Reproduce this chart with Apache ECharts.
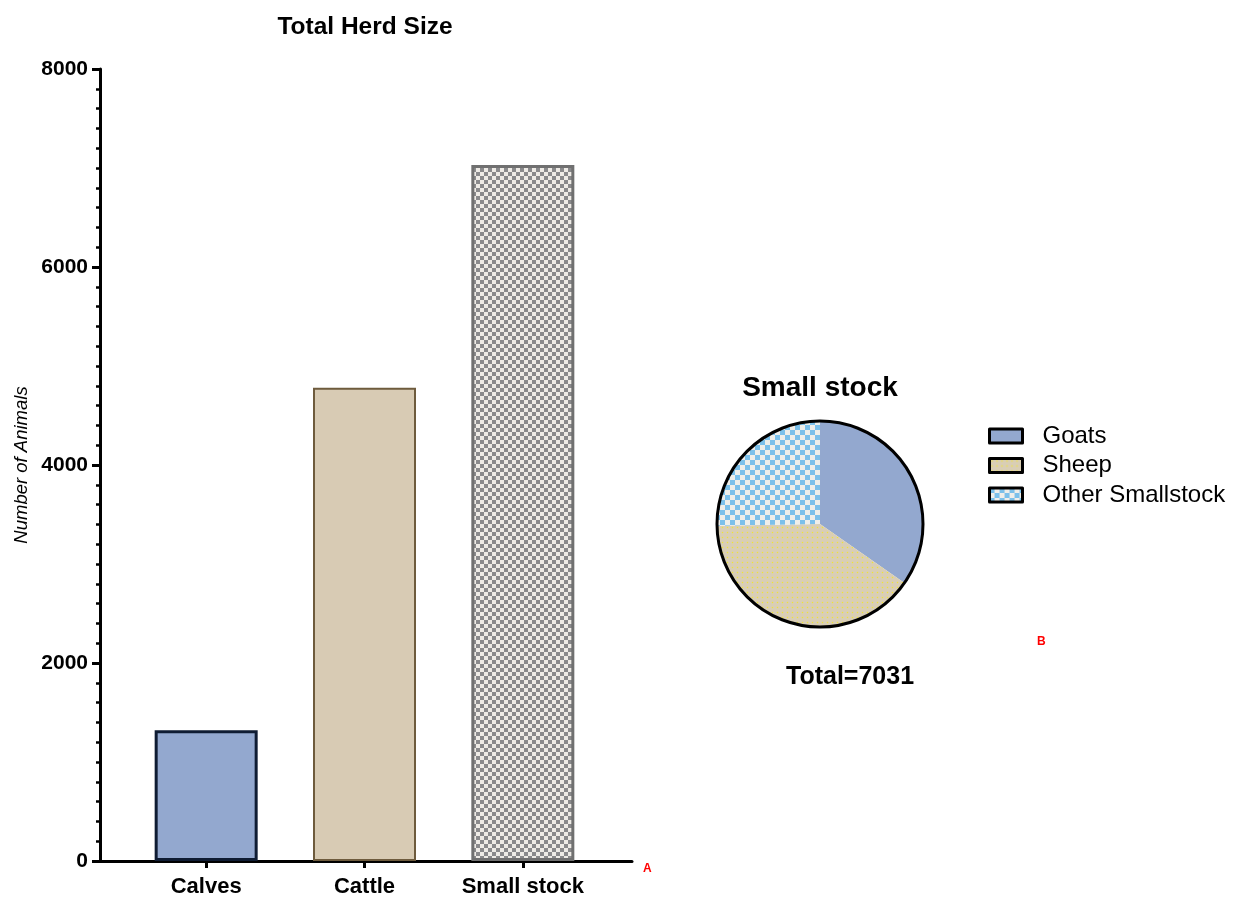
<!DOCTYPE html>
<html>
<head>
<meta charset="utf-8">
<script src="https://cdn.jsdelivr.net/npm/echarts@6/dist/echarts.min.js"></script>
<style>
  html, body { margin: 0; padding: 0; background: #fff; }
  #chart { width: 1245px; height: 899px; }
</style>
</head>
<body>
<div id="chart"></div>
<script>
// Herd counts
const herdCategories = ['Calves', 'Cattle', 'Small stock'];
const herdValues = [1320, 4780, 7031];
const herdTicks = [0, 2000, 4000, 6000, 8000];

// Breakdown of small stock
const smallStockNames = ['Goats', 'Sheep', 'Other Smallstock'];
const smallStockValues = [2440, 2815, 1776];

const FONT = '"Liberation Sans", Arial, sans-serif';

// Build a repeating canvas pattern
function checker(size, a, b) {
  const c = document.createElement('canvas');
  c.width = c.height = size * 2;
  const g = c.getContext('2d');
  g.fillStyle = a; g.fillRect(0, 0, size * 2, size * 2);
  g.fillStyle = b;
  g.fillRect(0, 0, size, size);
  g.fillRect(size, size, size, size);
  return { image: c, repeat: 'repeat' };
}
function dots(step, base, dot) {
  const c = document.createElement('canvas');
  c.width = c.height = step;
  const g = c.getContext('2d');
  g.fillStyle = base; g.fillRect(0, 0, step, step);
  g.fillStyle = dot;
  g.beginPath(); g.arc(step / 2, step / 2, 0.75, 0, Math.PI * 2); g.fill();
  return { image: c, repeat: 'repeat' };
}

const barStyles = [
  { color: '#93a8cf', borderColor: '#0f1c33', borderWidth: 3 },
  { color: '#d8cbb4', borderColor: '#6e5b3d', borderWidth: 2 },
  { color: checker(4, '#eeebe6', '#8a8a8c'), borderColor: '#707070', borderWidth: 3 }
];
const sliceStyles = [
  { color: '#93a8cf' },
  { color: dots(5, '#d9ceb5', '#efe43a') },
  { color: checker(5, '#efeeea', '#7cc0ea') }
];

const total = smallStockValues.reduce((s, v) => s + v, 0);

const chart = echarts.init(document.getElementById('chart'), null, { renderer: 'canvas' });

chart.setOption({
  animation: false,
  backgroundColor: '#fff',
  textStyle: { fontFamily: FONT },
  title: [
    { text: 'Total Herd Size', left: 365, top: 15, textAlign: 'center', padding: 0,
      textStyle: { fontFamily: FONT, fontSize: 24.5, fontWeight: 'bold', color: '#000' } },
    { text: 'Small stock', left: 820, top: 374, textAlign: 'center', padding: 0,
      textStyle: { fontFamily: FONT, fontSize: 28, fontWeight: 'bold', color: '#000' } },
    { text: 'Total=' + total, left: 850, top: 665, textAlign: 'center', padding: 0,
      textStyle: { fontFamily: FONT, fontSize: 25, fontWeight: 'bold', color: '#000' } },
    { text: 'A', left: 643, top: 863, padding: 0,
      textStyle: { fontFamily: FONT, fontSize: 12, fontWeight: 'bold', color: '#ff0000' } },
    { text: 'B', left: 1037, top: 636, padding: 0,
      textStyle: { fontFamily: FONT, fontSize: 12, fontWeight: 'bold', color: '#ff0000' } }
  ],
  legend: {
    orient: 'vertical',
    left: 983, top: 419,
    itemWidth: 33, itemHeight: 14,
    itemGap: 5.5,
    data: smallStockNames,
    icon: 'rect',
    itemStyle: { borderColor: '#000', borderWidth: 3 },
    textStyle: { fontFamily: FONT, fontSize: 24, color: '#000', padding: [0, 0, 0, 15] }
  },
  grid: [
    { left: 100, top: 69, width: 532, height: 792 },
    { left: 127, top: 69, width: 475, height: 792 }
  ],
  xAxis: [
    { gridIndex: 0, type: 'value', min: 0, max: 1,
      axisLine: { show: true, lineStyle: { color: '#000', width: 3 } },
      axisTick: { show: false }, axisLabel: { show: false }, splitLine: { show: false } },
    { gridIndex: 1, type: 'category', data: herdCategories,
      axisLine: { show: false },
      axisTick: { show: true, alignWithLabel: true, interval: 0, length: 7, lineStyle: { color: '#000', width: 3 } },
      axisLabel: { interval: 0, fontFamily: FONT, fontSize: 22, fontWeight: 'bold', color: '#000', margin: 15 } }
  ],
  yAxis: [
    { gridIndex: 0, type: 'value', min: 0, max: 8000, interval: 2000,
      name: 'Number of Animals', nameLocation: 'middle', nameGap: 69, nameRotate: 90,
      nameTextStyle: { fontFamily: FONT, fontSize: 18.5, fontStyle: 'italic', fontWeight: 'normal', color: '#000' },
      axisLine: { show: true, lineStyle: { color: '#000', width: 3 } },
      axisTick: { show: true, length: 8, lineStyle: { color: '#000', width: 3 } },
      minorTick: { show: true, splitNumber: 10, length: 4, lineStyle: { color: '#000', width: 2.5 } },
      axisLabel: { fontFamily: FONT, fontSize: 21, fontWeight: 'bold', color: '#000', margin: 12,
        customValues: herdTicks, formatter: v => String(v) },
      splitLine: { show: false } },
    { gridIndex: 1, type: 'value', min: 0, max: 8000, show: false, splitLine: { show: false } }
  ],
  series: [
    { type: 'bar', xAxisIndex: 1, yAxisIndex: 1, barWidth: 103, silent: true,
      data: herdValues.map((v, i) => ({ value: v, itemStyle: barStyles[i] })) },
    { type: 'pie', name: 'Small stock', center: [820, 524], radius: 103,
      startAngle: 90, clockwise: true, silent: true,
      label: { show: false }, labelLine: { show: false },
      itemStyle: { borderWidth: 0 },
      data: smallStockNames.map((n, i) => ({ name: n, value: smallStockValues[i], itemStyle: sliceStyles[i] })) },
    { type: 'pie', name: 'outline', center: [820, 524], radius: 103, silent: true,
      label: { show: false }, labelLine: { show: false },
      itemStyle: { color: 'rgba(0,0,0,0)', borderColor: '#000', borderWidth: 3 },
      data: [{ name: 'outline', value: total }] }
  ]
});
</script>
</body>
</html>
